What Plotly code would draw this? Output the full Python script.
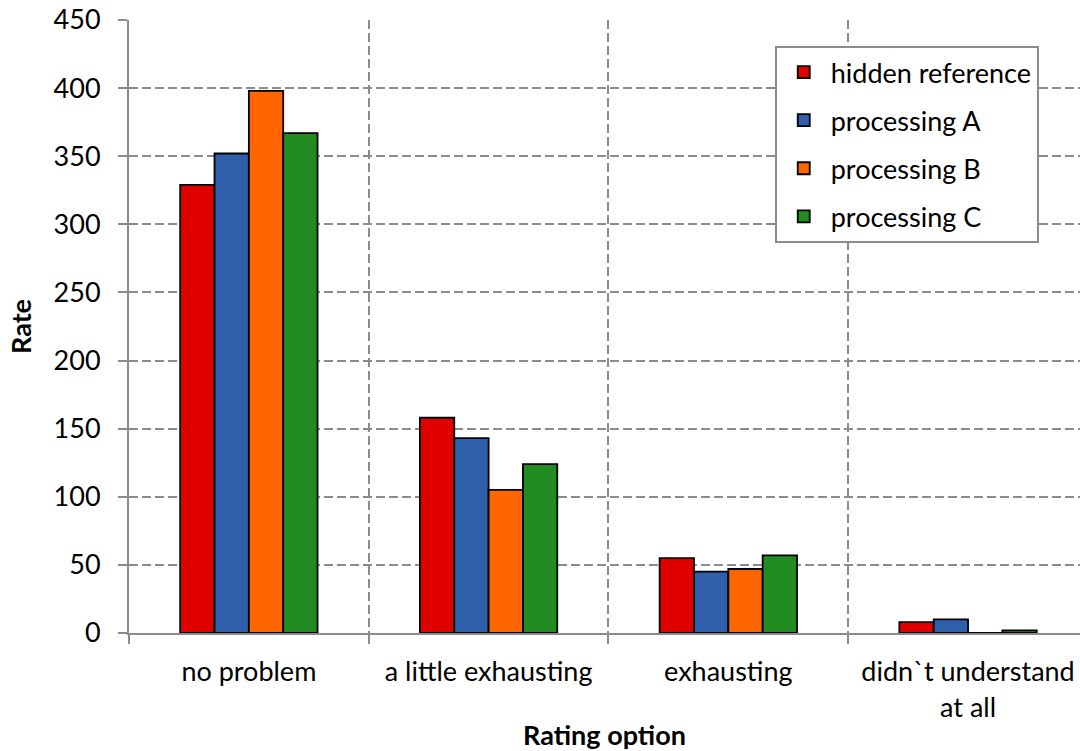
import plotly.graph_objects as go

categories = ["no problem", "a little exhausting", "exhausting", "didn`t understand<br>at all"]
hidden_reference = [329, 158, 55, 8]
processing_a = [352, 143, 45, 10]
processing_b = [398, 105, 47, 0]
processing_c = [367, 124, 57, 2]

series = [
    ("hidden reference", hidden_reference, "#E00000"),
    ("processing A", processing_a, "#2F5EAA"),
    ("processing B", processing_b, "#FF6600"),
    ("processing C", processing_c, "#228B22"),
]

FONT = "Lato, 'Open Sans', sans-serif"
FS = 27
GRID = "#8C8C8C"

fig = go.Figure()
for i, (name, vals, color) in enumerate(series):
    fig.add_trace(go.Bar(
        x=categories, y=vals, name=name, legendgroup=f"g{i}",
        marker=dict(color=color, line=dict(color="black", width=1.8)),
    ))

fig.update_layout(
    width=1080, height=751,
    margin=dict(l=129, r=0, t=20, b=118),
    paper_bgcolor="white", plot_bgcolor="white",
    barmode="group", bargap=0.427, bargroupgap=0,
    font=dict(family=FONT, size=FS, color="black"),
    showlegend=True,
    legend=dict(
        x=0.679, y=0.9576, xanchor="left", yanchor="top",
        bgcolor="white", bordercolor="#8C8C8C", borderwidth=2,
        font=dict(family=FONT, size=FS, color="black"),
        tracegroupgap=10, itemwidth=44,
    ),
    xaxis=dict(
        range=[-0.5, 3.467],
        tickson="boundaries", ticks="outside", ticklen=9, tickwidth=2, tickcolor=GRID,
        showgrid=True, gridcolor=GRID, gridwidth=2, griddash="9px,4px",
        showline=True, linecolor=GRID, linewidth=2,
        ticklabelstandoff=14,
        title=dict(text="<b>Rating option</b>", font=dict(family=FONT, size=FS), standoff=8),
        tickfont=dict(family=FONT, size=FS),
    ),
    yaxis=dict(
        range=[0, 450], dtick=50,
        ticks="outside", ticklen=9, tickwidth=2, tickcolor=GRID,
        showgrid=True, gridcolor=GRID, gridwidth=2, griddash="9px,4px",
        showline=True, linecolor=GRID, linewidth=2, zeroline=False,
        ticklabelstandoff=12,
        title=dict(text="<b>Rate</b>", font=dict(family=FONT, size=FS), standoff=14),
        tickfont=dict(family=FONT, size=FS),
    ),
)

fig.write_html("out.html")
